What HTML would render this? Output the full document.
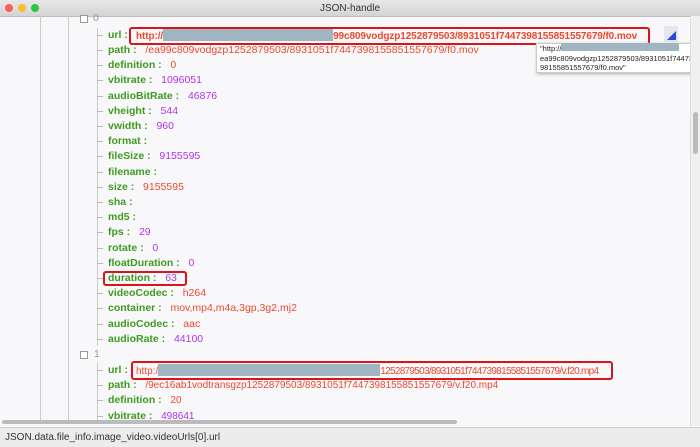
<!DOCTYPE html><html><head><style>
body{margin:0;width:700px;height:446px;overflow:hidden;background:#f8f8fb;font-family:"Liberation Sans",sans-serif;position:relative}
.t{position:absolute;white-space:nowrap;font-size:10.5px;line-height:13px}
.k{color:#3f9a1f;font-weight:bold}
.s{color:#ea4a2e}.n{color:#b035e8}
.v{position:absolute;width:1px;background:#ccc}
.h{position:absolute;height:1px;width:6px;background:#bbb}
.box{position:absolute;border:2.5px solid #d8151b;border-radius:3px}
.blur{display:inline-block;background:#9fb6c2;height:12px;vertical-align:-2px}
</style></head><body>
<div style="position:absolute;left:0;top:0;width:700px;height:16px;background:linear-gradient(#e8e8e8,#d4d4d4);border-bottom:1px solid #bdbdbd"></div>
<div style="position:absolute;left:5px;top:4px;width:8px;height:8px;border-radius:50%;background:#fc5f57"></div>
<div style="position:absolute;left:18px;top:4px;width:8px;height:8px;border-radius:50%;background:#fdbc2e"></div>
<div style="position:absolute;left:31px;top:4px;width:8px;height:8px;border-radius:50%;background:#28c840"></div>
<div class="t" style="left:0;width:700px;text-align:center;top:2px;font-size:10px;color:#333">JSON-handle</div>
<div class="v" style="left:40px;top:16px;height:405px"></div>
<div class="v" style="left:68px;top:16px;height:405px"></div>
<div class="v" style="left:97px;top:28px;height:318px"></div>
<div class="v" style="left:97px;top:362px;height:58px"></div>
<div style="position:absolute;left:80px;top:15px;width:6px;height:6px;border:1px solid #999;background:#fff"></div>
<div class="t" style="left:93px;top:12px;color:#999">0</div>
<div style="position:absolute;left:80px;top:351px;width:6px;height:6px;border:1px solid #999;background:#fff"></div>
<div class="t" style="left:94px;top:348px;color:#999">1</div>
<div id="r"></div>
<div class="box" style="left:129px;top:27px;width:517px;height:14px"></div>
<div class="t" style="left:136px;top:29px;font-weight:bold;color:#ea4a2e;font-size:10px;letter-spacing:-0.1px">http://<span class="blur" style="width:170px"></span>99c809vodgzp1252879503/8931051f7447398155851557679/f0.mov</div>
<div class="t k" style="left:108px;top:29px">url :</div>
<div style="position:absolute;left:664px;top:26px;width:14px;height:16px;background:#e4e6f0"></div>
<div style="position:absolute;left:667px;top:31px;width:0;height:0;border-left:9px solid transparent;border-bottom:9px solid #2b46e0"></div>
<div style="position:absolute;left:536px;top:43px;width:163px;height:28px;background:#fff;border:1px solid #ccc;box-shadow:1px 1px 3px #aaa"></div>
<div class="t" style="left:540px;top:43px;font-size:7.5px;line-height:9.5px;color:#222">"http://<span class="blur" style="width:118px;height:8px;vertical-align:0"></span><br>ea99c809vodgzp1252879503/8931051f74473<br>98155851557679/f0.mov"</div>
<div class="box" style="left:103px;top:271px;width:80px;height:11px"></div>
<div class="box" style="left:131px;top:361px;width:478px;height:15px"></div>
<div class="t s" style="left:136px;top:364px;font-size:10px">http:/<span class="blur" style="width:222px"></span><span style="letter-spacing:-0.7px">1252879503/8931051f7447398155851557679/v.f20.mp4</span></div>
<div style="position:absolute;left:0;top:420px;width:690px;height:5px"><div style="margin-left:2px;width:455px;height:4px;border-radius:2px;background:#bbb"></div></div>
<div style="position:absolute;left:690px;top:16px;width:10px;height:410px;background:#f0f0f0;border-left:1px solid #ddd"><div style="margin:96px 0 0 2px;width:5px;height:42px;border-radius:3px;background:#bbb"></div></div>
<div style="position:absolute;left:0;top:427px;width:700px;height:19px;background:#ececec;border-top:1px solid #d0d0d0"></div>
<div class="t" style="left:5px;top:431px;font-size:10px;color:#333">JSON.data.file_info.image_video.videoUrls[0].url</div>
<script>
var rows=[["path","/ea99c809vodgzp1252879503/8931051f7447398155851557679/f0.mov","s"],["definition","0","s"],["vbitrate","1096051","n"],["audioBitRate","46876","n"],["vheight","544","n"],["vwidth","960","n"],["format","",""],["fileSize","9155595","n"],["filename","",""],["size","9155595","s"],["sha","",""],["md5","",""],["fps","29","n"],["rotate","0","n"],["floatDuration","0","n"],["duration","63","n"],["videoCodec","h264","s"],["container","mov,mp4,m4a,3gp,3g2,mj2","s"],["audioCodec","aac","s"],["audioRate","44100","n"]];
var h="";
h+='<div class="h" style="left:97px;top:35px"></div>';
rows.forEach(function(r,i){var y=44+i*15.2;
h+='<div class="h" style="left:97px;top:'+(y+6)+'px"></div><div class="t" style="left:108px;top:'+y+'px"><span class="k">'+r[0]+' :</span>&nbsp;&nbsp; <span class="'+r[2]+'">'+r[1]+'</span></div>';});
var r2=[["url","",""],["path","/9ec16ab1vodtransgzp1252879503/8931051f7447398155851557679/v.f20.mp4","s"],["definition","20","s"],["vbitrate","498641","n"]];
r2.forEach(function(r,i){var y=364+i*15.2;
h+='<div class="h" style="left:97px;top:'+(y+6)+'px"></div><div class="t" style="left:108px;top:'+y+'px"><span class="k">'+r[0]+' :</span>&nbsp;&nbsp; <span class="'+r[2]+'" style="font-size:10px">'+r[1]+'</span></div>';});
document.getElementById("r").innerHTML=h;
</script>
</body></html>
